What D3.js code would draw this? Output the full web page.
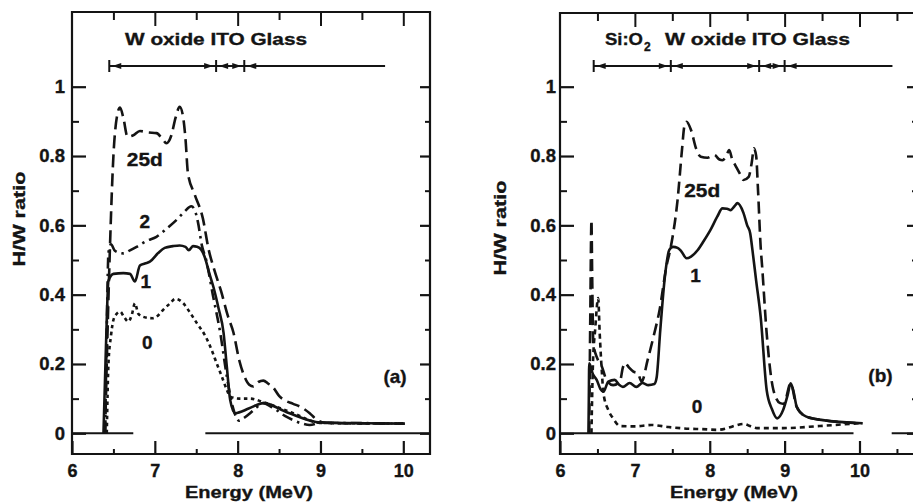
<!DOCTYPE html>
<html><head><meta charset="utf-8">
<script src="https://cdn.jsdelivr.net/npm/d3@7"></script>
<style>
body{margin:0;background:#fff}
svg{display:block;background:#fff}
text{font-family:"Liberation Sans",Arial,Helvetica,sans-serif;font-weight:bold;fill:#141414;stroke:#141414;stroke-width:0.35px}
</style>
</head><body>
<svg id="chart" width="913" height="502"></svg>
<script>
// ---------- data ----------
const xTickValues = [6, 7, 8, 9, 10];
const xTickLabels = ["6", "7", "8", "9", "10"];
const yTickValues = [0, 0.2, 0.4, 0.6, 0.8, 1];
const yTickLabels = ["0", "0.2", "0.4", "0.6", "0.8", "1"];
const yMinorValues = [0.1, 0.3, 0.5, 0.7, 0.9];

// panel (a): W oxide / ITO / Glass
const a25d = [[6.40,0],[6.43,0.30],[6.46,0.55],[6.50,0.80],[6.54,0.91],[6.58,0.94],[6.62,0.91],[6.67,0.856],[6.74,0.86],[6.82,0.872],[6.92,0.868],[7.02,0.866],[7.09,0.85],[7.14,0.837],[7.20,0.86],[7.25,0.91],[7.30,0.942],[7.34,0.915],[7.37,0.85],[7.40,0.75],[7.48,0.69],[7.58,0.62],[7.65,0.53],[7.72,0.47],[7.80,0.41],[7.88,0.34],[7.95,0.29],[8.02,0.21],[8.08,0.165],[8.14,0.14],[8.19,0.135],[8.25,0.148],[8.31,0.152],[8.37,0.143],[8.43,0.132],[8.50,0.108],[8.57,0.095],[8.67,0.085],[8.77,0.075],[8.87,0.058],[8.95,0.04],[9.02,0.032],[9.2,0.029],[10.0,0.028]];
const a2 = [[6.40,0],[6.42,0.3],[6.44,0.52],[6.47,0.545],[6.52,0.526],[6.62,0.519],[6.70,0.528],[6.78,0.538],[6.90,0.555],[7.02,0.567],[7.14,0.59],[7.26,0.615],[7.36,0.64],[7.44,0.655],[7.48,0.645],[7.52,0.61],[7.57,0.54],[7.62,0.50],[7.70,0.40],[7.79,0.29],[7.87,0.163],[7.94,0.077],[8.02,0.036],[8.08,0.045],[8.15,0.058],[8.23,0.075],[8.31,0.087],[8.40,0.077],[8.47,0.067],[8.57,0.05],[8.67,0.038],[8.78,0.028],[8.87,0.024],[9.0,0.03],[10.0,0.028]];
const a1 = [[6.38,0],[6.41,0.25],[6.44,0.44],[6.50,0.46],[6.62,0.462],[6.70,0.46],[6.76,0.438],[6.82,0.484],[6.88,0.49],[6.94,0.495],[7.04,0.52],[7.12,0.535],[7.22,0.54],[7.30,0.542],[7.37,0.538],[7.41,0.528],[7.46,0.54],[7.51,0.538],[7.56,0.53],[7.60,0.51],[7.66,0.46],[7.71,0.42],[7.77,0.36],[7.83,0.29],[7.87,0.19],[7.91,0.096],[7.97,0.058],[8.14,0.072],[8.31,0.087],[8.60,0.06],[9.0,0.031],[10.02,0.028]];
const a0 = [[6.42,0],[6.44,0.2],[6.47,0.28],[6.50,0.327],[6.54,0.345],[6.58,0.351],[6.63,0.335],[6.68,0.322],[6.72,0.34],[6.76,0.375],[6.80,0.345],[6.86,0.336],[6.97,0.332],[7.04,0.34],[7.10,0.356],[7.18,0.374],[7.25,0.388],[7.34,0.376],[7.42,0.35],[7.51,0.317],[7.60,0.285],[7.67,0.25],[7.75,0.20],[7.81,0.163],[7.87,0.125],[7.91,0.106],[8.02,0.10],[8.15,0.10],[8.31,0.09],[8.65,0.06],[9.0,0.03],[10.0,0.028]];
const aZeroSegments = [[6.0, 6.74], [7.61, 10.32]];
const aLayerBounds = [6.45, 7.74, 8.08];
const aLayerEnd = 9.78;
const aLayerTitle = "W oxide ITO Glass";
const aCurveNames = ["25d", "2", "1", "0"];
const aPanelName = "(a)";

// panel (b): Si:O2 / W oxide / ITO / Glass
const b25d = [[6.39,0],[6.405,0.35],[6.42,0.615],[6.43,0.45],[6.445,0.26],[6.50,0.215],[6.56,0.192],[6.62,0.154],[6.71,0.139],[6.80,0.149],[6.84,0.19],[6.87,0.203],[6.92,0.19],[6.98,0.178],[7.04,0.173],[7.09,0.149],[7.17,0.211],[7.25,0.28],[7.33,0.356],[7.42,0.48],[7.48,0.538],[7.57,0.673],[7.63,0.82],[7.66,0.885],[7.69,0.899],[7.75,0.875],[7.82,0.82],[7.88,0.798],[7.97,0.795],[8.06,0.803],[8.13,0.79],[8.17,0.788],[8.22,0.80],[8.26,0.817],[8.30,0.79],[8.34,0.774],[8.40,0.75],[8.45,0.731],[8.52,0.74],[8.56,0.78],[8.59,0.822],[8.62,0.80],[8.645,0.70],[8.68,0.538],[8.70,0.48],[8.76,0.289],[8.85,0.125],[8.94,0.087],[8.99,0.085],[9.08,0.144],[9.16,0.077],[9.29,0.048],[9.51,0.038],[10.04,0.029]];
const b1 = [[6.38,0],[6.385,0.1],[6.39,0.202],[6.44,0.17],[6.49,0.154],[6.54,0.128],[6.58,0.12],[6.645,0.149],[6.73,0.154],[6.79,0.14],[6.84,0.134],[6.93,0.145],[7.02,0.134],[7.10,0.145],[7.18,0.139],[7.26,0.142],[7.29,0.16],[7.34,0.30],[7.40,0.45],[7.46,0.529],[7.51,0.538],[7.57,0.535],[7.62,0.525],[7.69,0.505],[7.75,0.51],[7.84,0.529],[7.92,0.555],[8.01,0.587],[8.10,0.625],[8.17,0.649],[8.23,0.648],[8.28,0.644],[8.33,0.655],[8.37,0.664],[8.45,0.636],[8.50,0.60],[8.54,0.577],[8.57,0.529],[8.62,0.44],[8.68,0.336],[8.76,0.125],[8.83,0.07],[8.90,0.043],[8.98,0.067],[9.04,0.11],[9.08,0.144],[9.12,0.12],[9.16,0.077],[9.22,0.058],[9.29,0.048],[9.51,0.038],[10.04,0.029]];
const b0 = [[6.42,0],[6.44,0.2],[6.47,0.30],[6.51,0.39],[6.53,0.29],[6.56,0.174],[6.58,0.116],[6.645,0.067],[6.71,0.043],[6.80,0.021],[7.0,0.02],[7.22,0.024],[7.45,0.018],[7.66,0.014],[7.9,0.012],[8.10,0.01],[8.25,0.016],[8.34,0.022],[8.45,0.027],[8.55,0.02],[8.63,0.015],[8.98,0.015],[9.47,0.021],[10.04,0.03]];
const bZeroSegments = [[6.0, 9.92], [10.43, 10.9]];
const bLayerBounds = [6.45, 7.48, 8.66, 9.0];
const bLayerEnd = 10.44;
const bLayerTitle = "W oxide ITO Glass";
const bLayerPrefix = "Si:O";
const bLayerSub = "2";
const bCurveNames = ["25d", "1", "0"];
const bPanelName = "(b)";

const xTitle = "Energy (MeV)";
const yTitle = "H/W ratio";

// ---------- drawing ----------
const ink = "#141414";
const svg = d3.select("#chart");

function styleAxis(sel, w) {
  sel.select(".domain").remove();
  sel.selectAll(".tick line").attr("stroke", ink).attr("stroke-width", w || 2);
  sel.attr("font-family", null);
}

function drawPanel(o) {
  const x = d3.scaleLinear().domain([6, 10]).range(o.xr);
  const y = d3.scaleLinear().domain([0, 1]).range([433.3, 86.7]);
  const F = o.frame;
  const g = svg.append("g");

  // frame
  g.append("path")
    .attr("d", `M${F.l},${F.t}H${F.r}V${F.b}H${F.l}Z`)
    .attr("fill", "none").attr("stroke", ink).attr("stroke-width", 2.2);

  // bottom axis (inward ticks)
  g.append("g").attr("transform", `translate(0,${F.b})`)
    .call(d3.axisBottom(x).tickValues(xTickValues).tickFormat((d, i) => xTickLabels[i]).tickSize(-13).tickPadding(10))
    .call(s => styleAxis(s, 2.2)).attr("font-size", 18);
  g.append("g").attr("transform", `translate(0,${F.b})`)
    .call(d3.axisBottom(x).tickValues(o.halves).tickFormat("").tickSize(-5))
    .call(s => styleAxis(s, 2));
  // top axis
  g.append("g").attr("transform", `translate(0,${F.t})`)
    .call(d3.axisTop(x).tickValues(xTickValues.filter(v => v > 6)).tickFormat("").tickSize(-14))
    .call(s => styleAxis(s, 2));
  g.append("g").attr("transform", `translate(0,${F.t})`)
    .call(d3.axisTop(x).tickValues(o.halves).tickFormat("").tickSize(-8))
    .call(s => styleAxis(s, 2));
  // left axis
  g.append("g").attr("transform", `translate(${F.l},0)`)
    .call(d3.axisLeft(y).tickValues(yTickValues).tickFormat((d, i) => yTickLabels[i]).tickSize(-14).tickPadding(o.pad))
    .call(s => styleAxis(s, 2.2)).attr("font-size", 18.5);
  g.append("g").attr("transform", `translate(${F.l},0)`)
    .call(d3.axisLeft(y).tickValues(yMinorValues).tickFormat("").tickSize(-7))
    .call(s => styleAxis(s, 2));
  // right axis
  g.append("g").attr("transform", `translate(${F.r},0)`)
    .call(d3.axisRight(y).tickValues(yTickValues).tickFormat("").tickSize(-10))
    .call(s => styleAxis(s, 2.2));
  g.append("g").attr("transform", `translate(${F.r},0)`)
    .call(d3.axisRight(y).tickValues(yMinorValues).tickFormat("").tickSize(-5))
    .call(s => styleAxis(s, 2));

  // zero baseline segments
  g.selectAll(".zero").data(o.zero).join("line")
    .attr("x1", d => Math.max(x(d[0]), F.l)).attr("x2", d => x(d[1]))
    .attr("y1", y(0)).attr("y2", y(0))
    .attr("stroke", ink).attr("stroke-width", 2);

  // layer annotation
  const ly = 66;
  g.append("line").attr("x1", x(o.bounds[0])).attr("x2", x(o.layerEnd))
    .attr("y1", ly).attr("y2", ly).attr("stroke", ink).attr("stroke-width", 2);
  g.selectAll(".bar").data(o.bounds).join("line")
    .attr("x1", d => x(d)).attr("x2", d => x(d)).attr("y1", ly - 6).attr("y2", ly + 6)
    .attr("stroke", ink).attr("stroke-width", 2);
  const heads = [];
  o.bounds.forEach((b, i) => {
    heads.push({ px: x(b) + 3, dir: -1 });
    if (i > 0) heads.push({ px: x(b) - 3, dir: 1 });
  });
  g.selectAll(".head").data(heads).join("path")
    .attr("d", d => `M${d.px},${ly}L${d.px - d.dir * 9},${ly - 3}L${d.px - d.dir * 9},${ly + 3}Z`)
    .attr("fill", ink);

  // curves
  const line = d3.line().x(d => x(d[0])).y(d => y(d[1])).curve(d3.curveMonotoneX);
  o.series.forEach(s => {
    g.append("path").datum(s.data).attr("d", line)
      .attr("fill", "none").attr("stroke", ink).attr("stroke-width", s.w || 2.6)
      .attr("stroke-dasharray", s.dash).attr("stroke-linejoin", "round");
  });

  // curve labels
  o.labels.forEach(l => {
    const t = g.append("text").attr("x", x(l.at[0])).attr("y", y(l.at[1]))
      .attr("text-anchor", "middle").attr("dominant-baseline", "central")
      .attr("font-size", 19).text(l.text);
    if (l.len) t.attr("textLength", l.len).attr("lengthAdjust", "spacingAndGlyphs");
  });

  // axis titles
  g.append("text").attr("x", o.xTitleX).attr("y", 498).attr("text-anchor", "middle")
    .attr("font-size", 17).attr("textLength", 128).attr("lengthAdjust", "spacingAndGlyphs").text(xTitle);
  g.append("text").attr("transform", `translate(${o.yTitle[0]},${o.yTitle[1]}) rotate(-90)`)
    .attr("text-anchor", "middle").attr("dominant-baseline", "central")
    .attr("font-size", 17).attr("textLength", 95).attr("lengthAdjust", "spacingAndGlyphs").text(yTitle);
  return { x, y, g };
}

const A = drawPanel({
  xr: [72, 403.3], frame: { l: 72, r: 430, t: 12, b: 454 }, pad: 7,
  halves: [6.5, 7.5, 8.5, 9.5],
  zero: aZeroSegments, bounds: aLayerBounds, layerEnd: aLayerEnd,
  series: [
    { data: a25d, dash: "13,6" },
    { data: a2, dash: "11,5,2.5,5" },
    { data: a1, dash: null },
    { data: a0, dash: "3.5,3.5" }
  ],
  labels: [
    { text: aCurveNames[0], at: [6.88, 0.791], len: 36 },
    { text: aCurveNames[1], at: [6.88, 0.611] },
    { text: aCurveNames[2], at: [6.89, 0.437] },
    { text: aCurveNames[3], at: [6.91, 0.262] },
    { text: aPanelName, at: [9.90, 0.163] }
  ],
  xTitleX: 249, yTitle: [19, 219]
});
A.g.append("text").attr("x", 125).attr("y", 44.5).attr("font-size", 17)
  .attr("textLength", 182).attr("lengthAdjust", "spacingAndGlyphs").text(aLayerTitle);

const B = drawPanel({
  xr: [560, 859.5], frame: { l: 560, r: 917, t: 13, b: 454 }, pad: 4,
  halves: [6.5, 7.5, 8.5, 9.5, 10.5],
  zero: bZeroSegments, bounds: bLayerBounds, layerEnd: bLayerEnd,
  series: [
    { data: b25d, dash: "12,6" },
    { data: b1, dash: null },
    { data: b0, dash: "5,4" }
  ],
  labels: [
    { text: bCurveNames[0], at: [7.90, 0.70], len: 36 },
    { text: bCurveNames[1], at: [7.81, 0.454] },
    { text: bCurveNames[2], at: [7.83, 0.077] },
    { text: bPanelName, at: [10.28, 0.166] }
  ],
  xTitleX: 734, yTitle: [500, 228]
});
B.g.append("text").attr("x", 605).attr("y", 45).attr("font-size", 17)
  .attr("textLength", 38).attr("lengthAdjust", "spacingAndGlyphs").text(bLayerPrefix);
B.g.append("text").attr("x", 644).attr("y", 50.5).attr("font-size", 12).text(bLayerSub);
B.g.append("text").attr("x", 665).attr("y", 45).attr("font-size", 17)
  .attr("textLength", 185).attr("lengthAdjust", "spacingAndGlyphs").text(bLayerTitle);
</script>
</body></html>
